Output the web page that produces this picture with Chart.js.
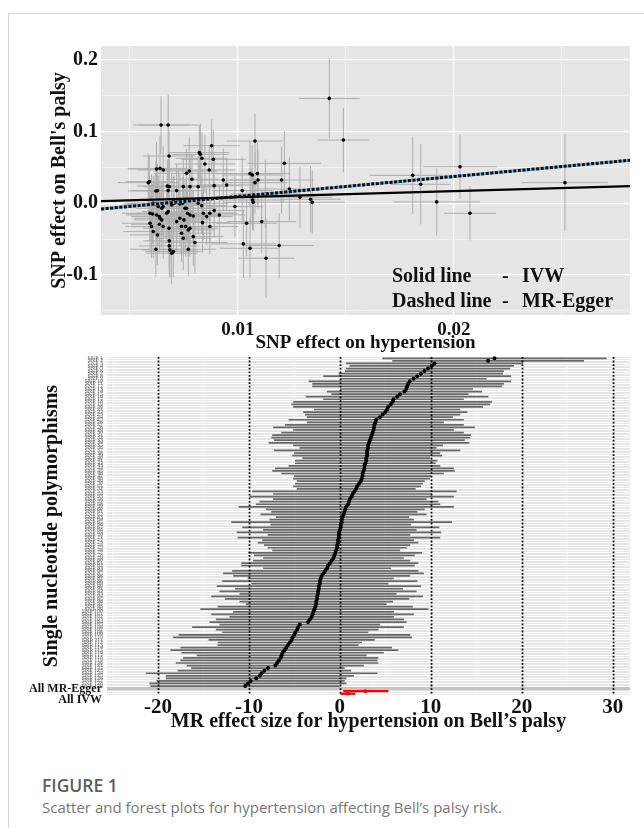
<!DOCTYPE html>
<html><head><meta charset="utf-8">
<script src="https://cdn.jsdelivr.net/npm/chart.js@4.4.1/dist/chart.umd.min.js"></script>
<style>
html,body{margin:0;padding:0;background:#fff;}
body{width:644px;height:828px;position:relative;overflow:hidden;}
#card{position:absolute;left:8px;top:13px;width:700px;height:900px;border-left:1px solid #d8d8d8;border-top:1px solid #d8d8d8;}
#c1{position:absolute;left:0;top:0;}
#c2{position:absolute;left:0;top:340px;}
.leg{position:absolute;font:bold 20px 'Liberation Serif';line-height:20px;color:#111;white-space:pre;}
#figlab{position:absolute;left:42px;top:773px;font:600 17.5px 'Open Sans';color:#5e5e5e;}
#figcap{position:absolute;left:42px;top:797px;font:400 15px 'Open Sans';color:#777;}
</style></head>
<body>
<div id="card"></div>
<canvas id="c1" width="644" height="360"></canvas>
<canvas id="c2" width="644" height="420"></canvas>
<div class="leg" style="left:392px;top:265px">Solid line</div>
<div class="leg" style="left:502px;top:265px">-</div>
<div class="leg" style="left:522px;top:265px">IVW</div>
<div class="leg" style="left:392px;top:290px">Dashed line</div>
<div class="leg" style="left:502px;top:290px">-</div>
<div class="leg" style="left:522px;top:290px">MR-Egger</div>
<div id="figlab">FIGURE 1</div>
<div id="figcap">Scatter and forest plots for hypertension affecting Bell’s palsy risk.</div>
<script>
// ---------- Scatter plot data ----------
const scatterX = [0.00644,0.00677,0.00681,0.00623,0.00639,0.00654,0.00585,0.00590,0.00620,0.00627,
0.00673,0.00682,0.00677,0.00762,0.00775,0.00787,0.00821,0.00826,0.00833,0.00847,
0.00878,0.00886,0.00867,0.00890,0.00932,0.00948,0.00747,0.00778,0.00816,0.00716,
0.00701,0.00724,0.01079,0.01056,0.01066,0.01090,0.01093,0.01079,0.01020,0.00986,
0.01060,0.01068,0.01071,0.01127,0.01202,0.01215,0.01238,0.01287,0.01336,0.01344,
0.00600,0.00608,0.00616,0.00631,0.00647,0.00654,0.00593,0.00605,0.00623,0.00636,
0.00639,0.00647,0.00670,0.00677,0.00693,0.00704,0.00731,0.00744,0.00755,0.00762,
0.00767,0.00778,0.00793,0.00816,0.00832,0.00836,0.00840,0.00855,0.00870,0.00890,
0.00914,0.00593,0.00600,0.00608,0.00627,0.00620,0.00636,0.00654,0.00681,0.00716,
0.00731,0.00750,0.00739,0.00758,0.00778,0.00682,0.00682,0.00685,0.00693,0.00701,
0.00739,0.00747,0.00770,0.00793,0.00770,0.00801,0.00870,0.01040,0.01110,0.01025,
0.01056,0.01130,0.01191,0.01423,0.01488,0.01809,0.01846,0.01920,0.02028,0.02074,0.02514];
const scatterY = [0.1093,0.1093,0.0660,0.0479,0.0488,0.0465,0.0288,0.0302,0.0172,0.0177,
0.0242,0.0232,0.0177,0.0418,0.0451,0.0335,0.0707,0.0683,0.0628,0.0549,
0.0804,0.0614,0.0465,0.0246,0.0325,0.0256,0.0232,0.0232,0.0232,0.0177,
0.0023,0.0046,0.0869,0.0414,0.0395,0.0414,0.0325,0.0288,0.0177,-0.0046,
0.0093,0.0046,0.0014,0.0130,0.0325,0.0558,0.0200,0.0084,0.0056,0.0014,
-0.0014,0.0000,-0.0009,-0.0046,-0.0070,-0.0046,-0.0139,-0.0149,-0.0163,-0.0186,
-0.0209,-0.0232,-0.0139,-0.0116,-0.0023,0.0000,-0.0009,0.0000,-0.0070,-0.0070,
-0.0139,-0.0163,-0.0177,0.0000,-0.0033,-0.0270,-0.0139,-0.0186,-0.0139,-0.0102,
-0.0163,-0.0279,-0.0325,-0.0395,-0.0442,-0.0642,-0.0293,-0.0325,-0.0349,-0.0256,
-0.0209,-0.0232,-0.0325,-0.0325,-0.0349,-0.0525,-0.0595,-0.0651,-0.0697,-0.0674,
-0.0418,-0.0488,-0.0372,-0.0465,-0.0642,-0.0549,-0.0325,-0.0279,-0.0256,-0.0567,
-0.0628,-0.0767,-0.0590,0.1464,0.0883,0.0390,0.0265,0.0019,0.0511,-0.0139,0.0288];
const scatterXErr = [0.0013,0.0014,0.0012,0.0013,0.0015,0.0012,0.0014,0.0011,0.0013,0.0012,
0.0014,0.0012,0.0013,0.0015,0.0013,0.0012,0.0014,0.0013,0.0012,0.0014,
0.0013,0.0015,0.0012,0.0013,0.0016,0.0014,0.0013,0.0012,0.0014,0.0013,
0.0012,0.0014,0.0013,0.0016,0.0014,0.0015,0.0013,0.0015,0.0014,0.0013,
0.0016,0.0015,0.0014,0.0016,0.0015,0.0017,0.0016,0.0015,0.0014,0.0015,
0.0013,0.0012,0.0014,0.0013,0.0012,0.0014,0.0013,0.0012,0.0014,0.0013,
0.0012,0.0013,0.0014,0.0012,0.0013,0.0014,0.0012,0.0013,0.0015,0.0013,
0.0012,0.0014,0.0013,0.0014,0.0012,0.0013,0.0014,0.0012,0.0013,0.0014,
0.0012,0.0013,0.0012,0.0014,0.0013,0.0012,0.0013,0.0014,0.0012,0.0013,
0.0014,0.0012,0.0013,0.0015,0.0013,0.0012,0.0014,0.0013,0.0012,0.0013,
0.0014,0.0013,0.0012,0.0014,0.0013,0.0015,0.0013,0.0014,0.0016,0.0015,
0.0014,0.0013,0.0016,0.0014,0.0012,0.0020,0.0014,0.0020,0.0017,0.0012,0.0020];
const scatterYErr = [0.040,0.042,0.035,0.038,0.045,0.033,0.040,0.036,0.042,0.038,
0.037,0.041,0.044,0.035,0.048,0.034,0.039,0.043,0.036,0.040,
0.037,0.042,0.035,0.038,0.044,0.036,0.040,0.039,0.043,0.037,
0.035,0.040,0.038,0.045,0.042,0.044,0.040,0.043,0.046,0.042,
0.039,0.041,0.040,0.048,0.047,0.045,0.044,0.043,0.046,0.044,
0.042,0.038,0.040,0.043,0.036,0.041,0.039,0.042,0.037,0.040,
0.044,0.038,0.041,0.036,0.043,0.039,0.042,0.037,0.040,0.045,
0.038,0.041,0.036,0.044,0.039,0.042,0.037,0.040,0.043,0.038,
0.041,0.039,0.044,0.037,0.042,0.038,0.040,0.045,0.036,0.041,
0.039,0.043,0.038,0.042,0.040,0.037,0.041,0.039,0.043,0.036,
0.040,0.044,0.038,0.041,0.037,0.042,0.039,0.046,0.044,0.048,
0.042,0.055,0.045,0.056,0.045,0.054,0.056,0.047,0.045,0.038,0.068];
const scatterXRange = [0.00366, 0.02815];
const scatterYRange = [-0.156, 0.2196];
const scatterXTicks = [0.005, 0.01, 0.015, 0.02, 0.025];
const scatterXTickLabels = ['', '0.01', '', '0.02', ''];
const scatterYTicks = [-0.15, -0.1, -0.05, 0, 0.05, 0.1, 0.15, 0.2];
const scatterYTickLabels = ['', '-0.1', '', '0.0', '', '0.1', '', '0.2'];
const ivwSlope = 0.85;
const eggerSlope = 2.78;
const eggerIntercept = -0.0182;

// ---------- Forest plot data ----------
const forestEst = [17.0,16.3,10.4,10.1,9.7,9.3,8.9,8.5,8.1,7.7,
7.5,7.4,7.3,7.1,6.6,6.3,5.9,5.8,5.6,5.3,
5.2,5.0,4.7,4.4,4.0,3.9,3.8,3.75,3.7,3.6,
3.5,3.4,3.3,3.2,3.1,3.1,3.0,3.0,3.0,2.9,
2.9,2.8,2.7,2.7,2.6,2.5,2.5,2.4,2.3,2.1,
1.9,1.8,1.6,1.4,1.3,1.1,1.0,0.9,0.7,0.6,
0.5,0.4,0.3,0.2,0.2,0.1,0.1,0.0,-0.1,-0.1,
-0.1,-0.2,-0.2,-0.3,-0.3,-0.4,-0.5,-0.6,-0.7,-0.9,
-1.1,-1.3,-1.4,-1.6,-1.8,-2.0,-2.1,-2.2,-2.2,-2.3,
-2.3,-2.4,-2.4,-2.5,-2.5,-2.6,-2.6,-2.7,-2.8,-2.9,
-3.0,-3.1,-3.3,-3.5,-4.4,-4.6,-4.7,-4.9,-5.0,-5.2,
-5.3,-5.5,-5.7,-5.9,-6.1,-6.3,-6.4,-6.5,-6.7,-6.9,
-7.1,-7.9,-8.3,-8.6,-8.8,-9.2,-9.8,-10.1,-10.4];
const forestLo = [4.7,5.8,0.7,1.1,0.7,0.6,-0.1,-1.8,0.1,-3.4,
-3.0,-3.0,0.0,-1.4,-0.9,-3.7,-1.8,-5.1,-5.3,-5.1,
-2.8,-4.0,-3.8,-3.6,-5.6,-3.6,-6.0,-7.3,-5.1,-6.4,
-7.4,-7.5,-7.2,-7.8,-5.1,-4.4,-7.2,-5.0,-5.2,-4.1,
-4.9,-4.9,-5.6,-7.1,-7.4,-6.4,-5.0,-5.1,-4.7,-4.9,
-5.1,-4.7,-9.6,-7.3,-9.9,-7.3,-8.8,-9.2,-11.1,-8.1,
-7.5,-8.7,-7.0,-7.7,-11.9,-7.6,-10.7,-8.4,-11.3,-7.9,
-11.2,-8.5,-9.0,-8.3,-7.9,-7.4,-10.0,-9.4,-8.4,-9.5,
-10.8,-10.8,-8.4,-11.8,-12.8,-11.7,-10.1,-12.9,-9.7,-13.5,
-11.5,-13.2,-11.0,-14.1,-12.6,-11.0,-10.3,-13.4,-15.3,-11.7,
-14.1,-12.1,-13.6,-14.3,-13.2,-16.2,-13.6,-12.9,-17.7,-18.3,
-14.4,-13.4,-13.4,-17.5,-18.6,-17.4,-15.7,-17.2,-17.5,-18.0,
-16.8,-16.3,-17.8,-21.3,-19.1,-19.1,-20.1,-20.9,-20.8];
const forestHi = [29.3,26.8,20.1,19.1,18.7,18.0,17.9,18.8,16.1,18.8,
18.0,17.8,14.6,15.6,14.1,16.3,13.6,16.7,16.5,15.7,
13.2,14.0,13.2,12.4,13.6,11.4,13.6,14.8,12.5,13.6,
14.4,14.3,13.7,14.2,11.3,10.6,13.2,11.0,11.2,9.9,
10.7,10.5,11.0,12.5,12.6,11.4,10.0,9.9,9.3,9.1,
8.9,8.3,12.8,10.1,12.5,9.5,10.8,11.0,12.5,9.3,
8.5,9.5,7.6,8.1,12.3,7.8,10.9,8.4,11.1,7.7,
11.0,8.1,8.6,7.7,7.3,6.6,9.0,8.2,7.0,7.7,
8.6,8.2,5.6,8.6,9.2,7.7,5.9,8.5,5.3,8.9,
6.9,8.4,6.2,9.1,7.6,5.8,5.1,8.0,9.7,5.9,
8.1,5.9,7.0,7.3,4.4,7.0,4.2,3.1,7.7,7.9,
3.8,2.4,2.0,5.7,6.4,4.8,2.9,4.2,4.1,4.2,
2.6,0.5,1.2,4.1,1.5,0.7,0.5,0.7,0.0];
// SNP identifiers are illegible in the reference; placeholder names
const snpLabels = forestEst.map((_, i) => 'SNP ' + (i + 1));
const summaryLabels = ['All MR-Egger', 'All IVW'];
const summaryEst = [2.8, 0.85];
const summaryLo = [0.4, 0.0];
const summaryHi = [5.3, 1.65];
const forestXRange = [-25.6, 31.9];
const forestXTicks = [-25, -20, -15, -10, -5, 0, 5, 10, 15, 20, 25, 30];
const forestRefLines = [-20, -10, 0, 10, 20, 30];

// ---------- shared ----------
Chart.defaults.font.family = "'Liberation Serif'";
Chart.defaults.color = '#111';
const panelBg = {
  id: 'panelBg',
  beforeDraw(chart, args, opts) {
    const a = chart.chartArea, c = chart.ctx;
    c.save(); c.fillStyle = opts.color || '#e5e5e5';
    c.fillRect(a.left, a.top, a.right - a.left, a.bottom - a.top); c.restore();
  }
};
const boldFont = (s) => ({family: "'Liberation Serif'", weight: 'bold', size: s});

// ---------- Chart 1: scatter ----------
const hErr = [], vErr = [], pts = [];
scatterX.forEach((x, i) => {
  const y = scatterY[i], ex = scatterXErr[i], ey = scatterYErr[i];
  hErr.push({x: x - ex, y: y}, {x: x + ex, y: y}, {x: x, y: null});
  vErr.push({x: x, y: y - ey}, {x: x, y: y + ey}, {x: x, y: null});
  pts.push({x: x, y: y});
});
const lineAt = (a, b) => scatterXRange.map(x => ({x: x, y: a + b * x}));

new Chart(document.getElementById('c1'), {
  type: 'scatter',
  data: {datasets: [
    {type: 'line', data: hErr, borderColor: '#adadad', borderWidth: 1, pointRadius: 0, spanGaps: false, order: 10},
    {type: 'line', data: vErr, borderColor: '#adadad', borderWidth: 1, pointRadius: 0, spanGaps: false, order: 9},
    {type: 'scatter', data: pts, pointRadius: 1.8, pointBackgroundColor: '#000', pointBorderWidth: 0, order: 5},
    {type: 'line', data: lineAt(eggerIntercept, eggerSlope), borderColor: '#7fb2d3', borderWidth: 3, pointRadius: 0, order: 3},
    {type: 'line', data: lineAt(0, ivwSlope), borderColor: '#000', borderWidth: 2.2, pointRadius: 0, order: 2},
    {type: 'line', data: lineAt(eggerIntercept, eggerSlope), borderColor: '#111', borderWidth: 3, borderDash: [3, 1.6], pointRadius: 0, order: 1}
  ]},
  options: {
    responsive: false, animation: false, devicePixelRatio: 1,
    layout: {padding: {left: 40, right: 14, top: 46, bottom: 6}},
    plugins: {legend: {display: false}, tooltip: {enabled: false}, panelBg: {color: '#e5e5e5'}},
    scales: {
      x: {
        type: 'linear', min: scatterXRange[0], max: scatterXRange[1],
        afterBuildTicks: s => { s.ticks = scatterXTicks.map(v => ({value: v})); },
        afterFit: s => { s.height = 39; },
        border: {display: false},
        grid: {color: '#ffffff', lineWidth: c => (scatterXTickLabels[c.index] ? 1.2 : 0.5), drawTicks: false},
        ticks: {font: boldFont(19), color: '#111', padding: 4, maxRotation: 0, autoSkip: false,
                callback: (v, i) => scatterXTickLabels[i]},
        title: {display: true, text: 'SNP effect on hypertension', font: boldFont(19), color: '#111', padding: 0}
      },
      y: {
        type: 'linear', min: scatterYRange[0], max: scatterYRange[1],
        afterBuildTicks: s => { s.ticks = scatterYTicks.map(v => ({value: v})); },
        afterFit: s => { s.width = 61; },
        border: {display: false},
        grid: {color: '#ffffff', lineWidth: c => (scatterYTickLabels[c.index] ? 1.2 : 0.5), drawTicks: false},
        ticks: {font: boldFont(20), color: '#111', padding: 3, autoSkip: false,
                callback: (v, i) => scatterYTickLabels[i]},
        title: {display: true, text: "SNP effect on Bell's palsy", font: boldFont(20), color: '#111', padding: {top: 8, bottom: 0}}
      }
    }
  },
  plugins: [panelBg]
});

// ---------- Chart 2: forest ----------
const nSnp = forestEst.length;
const labels = snpLabels.concat(['', summaryLabels[0], summaryLabels[1]]);
const ciData = forestEst.map((_, i) => [forestLo[i], forestHi[i]]).concat([null, null, null]);
const sepData = forestEst.map(() => null).concat([[forestXRange[0], forestXRange[1]], null, null]);
const sumCi = forestEst.map(() => null).concat([null, [summaryLo[0], summaryHi[0]], [summaryLo[1], summaryHi[1]]]);
const ptData = forestEst.concat([null, null, null]);
const sumPt = forestEst.map(() => null).concat([null, summaryEst[0], summaryEst[1]]);

const refLinesPlugin = {
  id: 'refLines',
  afterDatasetDraw(chart, args) {
    if (args.index !== 0) return;
    const a = chart.chartArea, c = chart.ctx, xs = chart.scales.x;
    c.save(); c.strokeStyle = '#000'; c.lineWidth = 1.8; c.setLineDash([1.8, 1.8]);
    forestRefLines.forEach(v => {
      const px = Math.round(xs.getPixelForValue(v)) + 0.5;
      c.beginPath(); c.moveTo(px, a.top); c.lineTo(px, a.bottom); c.stroke();
    });
    c.restore();
  }
};
const summaryLabelPlugin = {
  id: 'summaryLabels',
  afterDraw(chart) {
    const c = chart.ctx, ys = chart.scales.y, a = chart.chartArea;
    const offs = [-2, 6.5];
    c.save(); c.font = "bold 12px 'Liberation Serif'"; c.fillStyle = '#111';
    c.textAlign = 'right'; c.textBaseline = 'middle';
    summaryLabels.forEach((t, k) => {
      c.fillText(t, a.left - 5, ys.getPixelForValue(nSnp + 1 + k) + offs[k]);
    });
    c.restore();
  }
};

new Chart(document.getElementById('c2'), {
  type: 'bar',
  data: {labels: labels, datasets: [
    {type: 'bar', data: ciData, backgroundColor: '#686868', barThickness: 1.05, grouped: false, borderWidth: 0, borderSkipped: false, order: 3},
    {type: 'bar', data: sepData, backgroundColor: '#c4c4c4', barThickness: 2.4, grouped: false, borderWidth: 0, borderSkipped: false, order: 4},
    {type: 'bar', data: sumCi, backgroundColor: '#ff0000', barThickness: 1.6, grouped: false, borderWidth: 0, borderSkipped: false, order: 2},
    {type: 'line', data: ptData, showLine: false, pointRadius: 2.0, pointBackgroundColor: '#000', pointBorderWidth: 0, order: 1},
    {type: 'line', data: sumPt, showLine: false, pointRadius: 1.9, pointBackgroundColor: '#ff0000', pointBorderWidth: 0, order: 0}
  ]},
  options: {
    indexAxis: 'y',
    responsive: false, animation: false, devicePixelRatio: 1,
    layout: {padding: {left: 30, right: 14, top: 17, bottom: 26}},
    plugins: {legend: {display: false}, tooltip: {enabled: false}, panelBg: {color: '#e6e6e6'}},
    scales: {
      x: {
        type: 'linear', min: forestXRange[0], max: forestXRange[1],
        afterBuildTicks: s => { s.ticks = forestXTicks.map(v => ({value: v})); },
        afterFit: s => { s.height = 39; },
        border: {display: false},
        grid: {color: '#ffffff', lineWidth: c => (forestRefLines.includes(forestXTicks[c.index]) ? 1.2 : 0.6), drawTicks: false},
        ticks: {font: boldFont(21), color: '#111', padding: 0, maxRotation: 0, autoSkip: false,
                callback: (v, i) => (forestRefLines.includes(forestXTicks[i]) ? String(forestXTicks[i]) : '')},
        title: {display: true, text: 'MR effect size for hypertension on Bell’s palsy', font: boldFont(20), color: '#111', padding: 0}
      },
      y: {
        type: 'category', offset: true,
        afterFit: s => { s.width = 77; },
        border: {display: false},
        grid: {color: '#ffffff', lineWidth: 1, offset: false, drawTicks: false},
        ticks: {autoSkip: false, font: {family: "'Liberation Serif'", size: 6}, color: '#6a6a6a', padding: 4,
                callback: (v, i) => (i < nSnp ? labels[i] : '')},
        title: {display: true, text: 'Single nucleotide polymorphisms', font: boldFont(20), color: '#111', padding: {top: 10, bottom: 0}}
      }
    }
  },
  plugins: [panelBg, refLinesPlugin, summaryLabelPlugin]
});
</script>
</body></html>
